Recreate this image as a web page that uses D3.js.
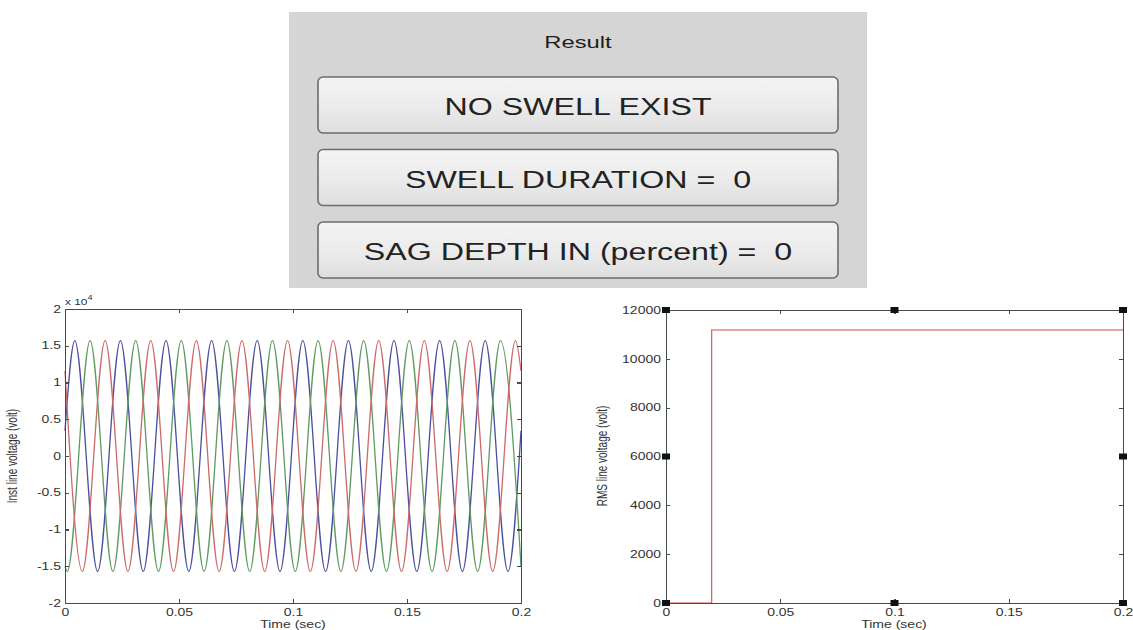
<!DOCTYPE html>
<html>
<head>
<meta charset="utf-8">
<script src="https://cdn.jsdelivr.net/npm/d3@7"></script>
<style>
  html, body { margin: 0; padding: 0; background: #ffffff; }
  svg { display: block; font-family: "Liberation Sans", Arial, sans-serif; }
  .axis path, .axis line { stroke: #4a4a4a; stroke-width: 1.2; shape-rendering: crispEdges; }
  .axis text { fill: #333333; font-size: 10px; font-family: "Liberation Sans", Arial, sans-serif; }
</style>
</head>
<body>
<svg id="fig" width="1133" height="630"></svg>
<script>
// ---- Result panel ----
const panelTitle = "Result";
const buttonLabels = ["NO SWELL EXIST", "SWELL DURATION =  0", "SAG DEPTH IN (percent) =  0"];

// ---- Instantaneous line voltages (volt): extremes of each phase over 0..0.2 s ----
const phaseBlueT = [0, 0.0043, 0.0143, 0.0243, 0.0343, 0.0443, 0.0543, 0.0643, 0.0743, 0.0843, 0.0943,
                    0.1043, 0.1143, 0.1243, 0.1343, 0.1443, 0.1543, 0.1643, 0.1743, 0.1843, 0.1943, 0.2];
const phaseBlueV = [3420, 15700, -15700, 15700, -15700, 15700, -15700, 15700, -15700, 15700, -15700,
                    15700, -15700, 15700, -15700, 15700, -15700, 15700, -15700, 15700, -15700, 3420];
const phaseGreenT = [0, 0.0010, 0.0110, 0.0210, 0.0310, 0.0410, 0.0510, 0.0610, 0.0710, 0.0810, 0.0910,
                     0.1010, 0.1110, 0.1210, 0.1310, 0.1410, 0.1510, 0.1610, 0.1710, 0.1810, 0.1910, 0.2];
const phaseGreenV = [-14980, -15700, 15700, -15700, 15700, -15700, 15700, -15700, 15700, -15700, 15700,
                     -15700, 15700, -15700, 15700, -15700, 15700, -15700, 15700, -15700, 15700, -14980];
const phaseRedT = [0, 0.0076, 0.0176, 0.0276, 0.0376, 0.0476, 0.0576, 0.0676, 0.0776, 0.0876, 0.0976,
                   0.1076, 0.1176, 0.1276, 0.1376, 0.1476, 0.1576, 0.1676, 0.1776, 0.1876, 0.1976, 0.2];
const phaseRedV = [11560, -15700, 15700, -15700, 15700, -15700, 15700, -15700, 15700, -15700, 15700,
                   -15700, 15700, -15700, 15700, -15700, 15700, -15700, 15700, -15700, 15700, 11560];

// ---- RMS line voltage (volt) ----
const rmsT = [0, 0.02, 0.2];
const rmsV = [0, 11180, 11180];

// ---- Axis ticks ----
const timeTicks = [0, 0.05, 0.1, 0.15, 0.2];
const instTicks = [-20000, -15000, -10000, -5000, 0, 5000, 10000, 15000, 20000];
const rmsTicks = [0, 2000, 4000, 6000, 8000, 10000, 12000];

// selection handles around the RMS axes (time, volt)
const handleT = [0, 0.1, 0.2, 0, 0.2, 0, 0.1, 0.2];
const handleV = [12000, 12000, 12000, 6000, 6000, 0, 0, 0];

// horizontal stretch of the figure text
const SX = 1.4;

const svg = d3.select("#fig");

// gradient for push buttons
const defs = svg.append("defs");
const grad = defs.append("linearGradient").attr("id", "btnGrad")
  .attr("x1", 0).attr("y1", 0).attr("x2", 0).attr("y2", 1);
grad.append("stop").attr("offset", "0%").attr("stop-color", "#f4f4f4");
grad.append("stop").attr("offset", "55%").attr("stop-color", "#ebebeb");
grad.append("stop").attr("offset", "100%").attr("stop-color", "#dedede");

// ---------- Result panel ----------
const panel = svg.append("g");
panel.append("rect").attr("x", 289).attr("y", 12).attr("width", 578).attr("height", 276)
  .attr("fill", "#d5d5d5");
panel.append("text")
  .attr("transform", `translate(578,48) scale(${SX},1)`)
  .attr("text-anchor", "middle").attr("font-size", 17).attr("fill", "#1e1e1e")
  .text(panelTitle);

const btnY = d3.scalePoint().domain(buttonLabels).range([77, 222]);
const btn = panel.selectAll("g.btn").data(buttonLabels).join("g").attr("class", "btn")
  .attr("transform", d => `translate(318,${btnY(d)})`);
btn.append("rect").attr("width", 520).attr("height", 56).attr("rx", 5).attr("ry", 5)
  .attr("fill", "url(#btnGrad)").attr("stroke", "#6c6c6c").attr("stroke-width", 1.6);
btn.append("text")
  .attr("transform", `translate(260,38) scale(${SX},1)`)
  .attr("text-anchor", "middle").attr("font-size", 23).attr("fill", "#222222")
  .style("white-space", "pre")
  .text(d => d);

// helper: stretch tick labels horizontally, keeping their gap to the axis
function stretchTicks(g) {
  g.selectAll(".tick text").each(function () {
    const t = d3.select(this);
    t.attr("x", (+t.attr("x") || 0) / SX).attr("transform", `scale(${SX},1)`);
  });
}

function drawFrame(x, y, yTicks, yFmt, yPad) {
  const [x0, x1] = x.range();
  const [y0, y1] = y.range();
  const g = svg.append("g");
  g.append("g").attr("class", "axis").attr("transform", `translate(0,${y0})`)
    .call(d3.axisBottom(x).tickValues(timeTicks).tickFormat(d => String(d))
      .tickSizeInner(-4).tickSizeOuter(0).tickPadding(6))
    .call(stretchTicks);
  g.append("g").attr("class", "axis").attr("transform", `translate(0,${y1})`)
    .call(d3.axisTop(x).tickValues(timeTicks).tickFormat("").tickSizeInner(-4).tickSizeOuter(0));
  g.append("g").attr("class", "axis").attr("transform", `translate(${x0},0)`)
    .call(d3.axisLeft(y).tickValues(yTicks).tickFormat(yFmt)
      .tickSizeInner(-4).tickSizeOuter(0).tickPadding(yPad))
    .call(stretchTicks);
  g.append("g").attr("class", "axis").attr("transform", `translate(${x1},0)`)
    .call(d3.axisRight(y).tickValues(yTicks).tickFormat("").tickSizeInner(-4).tickSizeOuter(0));
  return g;
}

function axisTitles(cx, cy, xTitle, yTitle, yx) {
  svg.append("text")
    .attr("transform", `translate(${cx},628) scale(${SX},1)`)
    .attr("text-anchor", "middle").attr("font-size", 10).attr("fill", "#333")
    .text(xTitle);
  svg.append("text")
    .attr("transform", `translate(${yx},${cy}) scale(${SX},1) rotate(-90)`)
    .attr("text-anchor", "middle").attr("font-size", 10).attr("fill", "#333")
    .text(yTitle);
}

// ---------- Instantaneous voltage plot ----------
const xL = d3.scaleLinear().domain([0, 0.2]).range([65, 521]);
const yL = d3.scaleLinear().domain([-20000, 20000]).range([603, 309]);

const waveLine = d3.line().x(d => xL(d[0])).y(d => yL(d[1])).curve(d3.curveMonotoneX);
const phases = [
  { t: phaseBlueT, v: phaseBlueV, color: "#4c4f9e" },
  { t: phaseGreenT, v: phaseGreenV, color: "#5e9a62" },
  { t: phaseRedT, v: phaseRedV, color: "#cc6a6a" }
];
svg.append("g").selectAll("path").data(phases).join("path")
  .attr("d", p => waveLine(p.t.map((t, i) => [t, p.v[i]])))
  .attr("fill", "none").attr("stroke", p => p.color).attr("stroke-width", 1.3);

drawFrame(xL, yL, instTicks, d => String(d / 10000), 4);

const expo = svg.append("text").attr("transform", `translate(65,305) scale(${SX},1)`)
  .attr("font-size", 8.5).attr("fill", "#333");
expo.append("tspan").text("x 10");
expo.append("tspan").attr("dy", -5).attr("font-size", 6.5).text("4");

axisTitles(293, 456, "Time (sec)", "Inst line voltage (volt)", 17);

// ---------- RMS voltage plot ----------
const xR = d3.scaleLinear().domain([0, 0.2]).range([666, 1123]);
const yR = d3.scaleLinear().domain([0, 12000]).range([603, 310]);

const rmsLine = d3.line().x(d => xR(d[0])).y(d => yR(d[1])).curve(d3.curveStepAfter);
svg.append("path")
  .attr("d", rmsLine(rmsT.map((t, i) => [t, rmsV[i]])))
  .attr("fill", "none").attr("stroke", "#cf4f4f").attr("stroke-width", 1.1);

drawFrame(xR, yR, rmsTicks, d => String(d), 5);

svg.append("g").selectAll("rect").data(handleT.map((t, i) => [t, handleV[i]])).join("rect")
  .attr("x", d => xR(d[0]) - 4).attr("y", d => yR(d[1]) - 3)
  .attr("width", 8).attr("height", 6).attr("fill", "#111");

axisTitles(894, 456, "Time (sec)", "RMS line voltage (volt)", 607);
</script>
</body>
</html>
